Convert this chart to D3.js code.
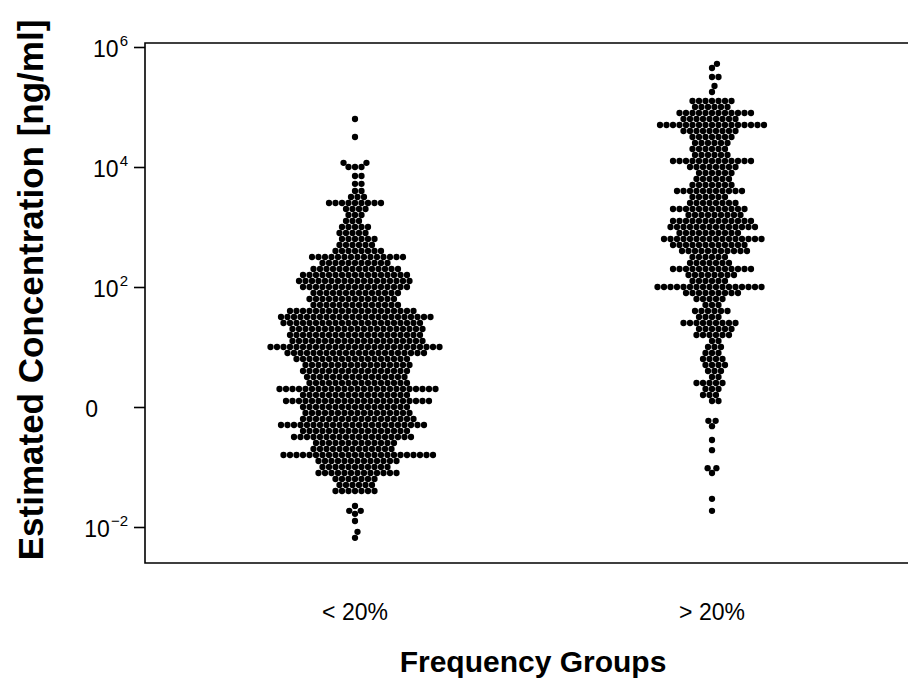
<!DOCTYPE html>
<html>
<head>
<meta charset="utf-8">
<script src="https://cdn.jsdelivr.net/npm/d3@7"></script>
<style>
  body { margin: 0; background: #fff; }
  text { font-family: "Liberation Sans", Arial, sans-serif; fill: #000; }
</style>
</head>
<body>
<svg id="chart" width="908" height="682"></svg>
<script>
// categories on the x axis
const groups = ["< 20%", "> 20%"];

// log10(concentration) of each row of dots and how many dots share it
const lowLevels = [4.80, 4.50, 4.07, 4.00, 3.85, 3.72, 3.60, 3.50,
  3.4, 3.3, 3.2, 3.1, 3.0, 2.9, 2.8, 2.7, 2.6, 2.5, 2.4, 2.3, 2.2, 2.1, 2.0,
  1.9, 1.8, 1.7, 1.6, 1.5, 1.4, 1.3, 1.2, 1.1, 1.0, 0.9, 0.8, 0.7, 0.6, 0.5,
  0.4, 0.3, 0.2, 0.1, 0.0, -0.1, -0.2, -0.3, -0.4, -0.5, -0.6, -0.7, -0.8,
  -0.9, -1.0, -1.1, -1.2, -1.3, -1.4,
  -1.65, -1.73, -1.78, -1.90, -2.08, -2.18];
const lowCounts = [1, 1, 2, 3, 2, 2, 2, 3,
  9, 4, 3, 3, 5, 5, 6, 6, 8, 15, 11, 14, 17, 18, 17,
  14, 14, 14, 20, 24, 22, 21, 21, 21, 27, 22, 18, 17, 17, 16,
  16, 25, 17, 23, 17, 17, 18, 23, 17, 19, 13, 13, 24,
  13, 11, 13, 7, 6, 7,
  1, 2, 1, 1, 1, 1];

const highLevels = [5.72, 5.65, 5.50, 5.35, 5.25,
  5.1, 5.0, 4.9, 4.8, 4.7, 4.6, 4.5, 4.4, 4.3, 4.2, 4.1, 4.0, 3.9, 3.8, 3.7,
  3.6, 3.5, 3.4, 3.3, 3.2, 3.1, 3.0, 2.9, 2.8, 2.7, 2.6, 2.5, 2.4, 2.3, 2.2,
  2.1, 2.0, 1.9, 1.8, 1.7, 1.6, 1.5, 1.4, 1.3, 1.2, 1.1, 1.0, 0.9, 0.8, 0.7,
  0.6, 0.5, 0.4, 0.3, 0.2, 0.1,
  -0.23, -0.32, -0.55, -0.72, -1.02, -1.10, -1.53, -1.73];
const highCounts = [1, 1, 2, 1, 1,
  7, 6, 12, 9, 17, 9, 7, 6, 6, 6, 13, 8, 6, 6, 7,
  11, 6, 8, 12, 9, 13, 14, 10, 16, 12, 11, 6, 7, 13, 8,
  6, 17, 9, 5, 3, 6, 4, 9, 6, 6, 2, 3, 3, 4, 4,
  3, 2, 5, 3, 3, 2,
  2, 1, 1, 1, 2, 1, 1, 1];

// y axis ticks (log10) and their labels
const tickPowers = [-2, 0, 2, 4, 6];
const tickBases = ["10", "0", "10", "10", "10"];
const tickExps = ["\u22122", "", "2", "4", "6"];

const margin = {top: 43, bottom: 563, left: 145, right: 915};
const R = 3.15, D = 6.5;

const svg = d3.select("#chart");

const y = d3.scaleLog()
  .domain([Math.pow(10, -2.6), Math.pow(10, 6 + 4 / 60)])
  .range([margin.bottom, margin.top]);
const x = d3.scalePoint().domain(groups).range([355, 712]);

// swarm layout: each dot goes as close to the centre as it can without overlapping
function swarm(ys) {
  const order = d3.range(ys.length).sort((a, b) => ys[b] - ys[a]);
  const placed = [];
  const xs = new Array(ys.length);
  let flip = 1;
  order.forEach(i => {
    const yy = ys[i];
    const near = placed.filter(p => Math.abs(p.y - yy) < D - 0.01);
    const cands = [0];
    near.forEach(p => {
      const dx = Math.sqrt(D * D - (p.y - yy) * (p.y - yy));
      cands.push(p.x + dx, p.x - dx);
    });
    const ok = cands.filter(c => near.every(p => (p.x - c) ** 2 + (p.y - yy) ** 2 >= D * D - 1e-3));
    ok.sort((a, b) => (Math.abs(a) - Math.abs(b)) || (a - b) * flip);
    flip = -flip;
    xs[i] = ok[0];
    placed.push({x: ok[0], y: yy});
  });
  return xs;
}

function expand(levels, counts) {
  const out = [];
  levels.forEach((l, i) => { for (let k = 0; k < counts[i]; k++) out.push(Math.pow(10, l)); });
  return out;
}

const series = [expand(lowLevels, lowCounts), expand(highLevels, highCounts)];

series.forEach((vals, gi) => {
  const ys = vals.map(v => y(v));
  const xs = swarm(ys);
  svg.append("g").selectAll("circle")
    .data(vals)
    .enter()
    .append("circle")
    .attr("cx", (d, i) => x(groups[gi]) + xs[i])
    .attr("cy", (d, i) => ys[i])
    .attr("r", R)
    .attr("fill", "#000");
});

// frame (left, top, bottom)
svg.append("path")
  .attr("d", `M${margin.right},${margin.top}H${margin.left}V${margin.bottom}H${margin.right}`)
  .attr("fill", "none")
  .attr("stroke", "#000")
  .attr("stroke-width", 1.6);

// y axis ticks
const yAxis = svg.append("g")
  .attr("transform", `translate(${margin.left},0)`)
  .call(d3.axisLeft(y)
    .tickValues(tickPowers.map(p => Math.pow(10, p)))
    .tickSize(11)
    .tickPadding(6)
    .tickFormat(""));
yAxis.select(".domain").remove();
yAxis.selectAll(".tick line").attr("stroke", "#000").attr("stroke-width", 1.6);
yAxis.selectAll(".tick text").each(function(d, i) {
  const t = d3.select(this)
    .attr("font-size", 23)
    .attr("font-family", "'Liberation Sans', Arial, sans-serif")
    .attr("fill", "#000")
    .attr("dy", "0.42em");
  t.append("tspan").text(tickBases[i]);
  if (tickExps[i]) {
    t.append("tspan").attr("font-size", 15).attr("dy", "-0.75em").attr("dx", "1").text(tickExps[i]);
  } else {
    t.attr("dx", -30);
  }
});

// group labels
svg.append("g").selectAll("text")
  .data(groups)
  .enter()
  .append("text")
  .attr("x", d => x(d))
  .attr("y", 620)
  .attr("text-anchor", "middle")
  .attr("font-size", 23)
  .text(d => d);

// axis titles
svg.append("text")
  .attr("x", 533)
  .attr("y", 672)
  .attr("text-anchor", "middle")
  .attr("font-size", 30)
  .attr("font-weight", "bold")
  .text("Frequency Groups");

svg.append("text")
  .attr("transform", "translate(43,290) rotate(-90)")
  .attr("text-anchor", "middle")
  .attr("font-size", 35)
  .attr("font-weight", "bold")
  .text("Estimated Concentration [ng/ml]");
</script>
</body>
</html>
